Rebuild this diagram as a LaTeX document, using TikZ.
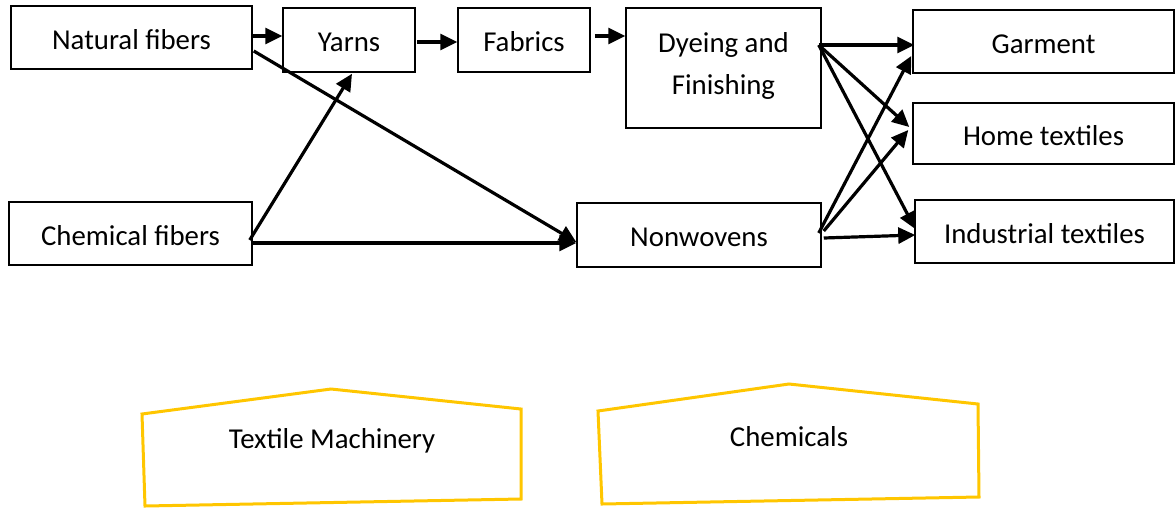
\documentclass[tikz,border=0pt]{standalone}
\usepackage{fontspec}
\setmainfont{Carlito}
\usetikzlibrary{arrows.meta,calc}
\definecolor{shedgold}{RGB}{255,198,0}
\begin{document}
\begin{tikzpicture}[x=1pt,y=-1pt,
  txt/.style={font=\fontsize{28.8}{42}\selectfont},
  box/.style={txt, draw=black, line width=1.5pt, inner sep=0pt, align=center,
    text height=23.5pt, text depth=0pt},
  flow/.style={line width=3.2pt, -{Triangle[length=17pt,width=16pt]}},
  shed/.style={draw=shedgold, line width=3pt, line join=miter}]
\useasboundingbox (0,0) rectangle (1175,507);

% process chain boxes
\node[box, minimum width=241, minimum height=63] (nat)  at (131.5,37.5) {Natural fibers};
\node[box, minimum width=132, minimum height=64] (yarn) at (349,40)     {Yarns};
\node[box, minimum width=132, minimum height=64] (fab)  at (524,40)     {Fabrics};
\node[box, minimum width=195, minimum height=120, text height=52.6pt, text depth=0pt]
  (dye) at (723.5,68) {Dyeing and\\Finishing};
\node[box, minimum width=243, minimum height=63] (chem) at (130.5,233.5) {Chemical fibers};
\node[box, minimum width=244, minimum height=64] (non)  at (699,235)    {Nonwovens};

% end uses
\node[box, minimum width=261, minimum height=63] (gar)  at (1043.5,41.5)  {Garment};
\node[box, minimum width=261, minimum height=61] (home) at (1043.5,133.5) {Home textiles};
\node[box, minimum width=259, minimum height=63] (ind)  at (1044.5,231.5) {Industrial textiles};

% flows
\draw[flow] ($(nat.east)+(0,-1.5)$)  -- ($(yarn.west)+(0,-4)$);
\draw[flow] ($(yarn.east)+(1,2)$)    -- ($(fab.west)+(0,2)$);
\draw[flow] ($(fab.east)+(4,-4)$)    -- ($(dye.west)+(0,-32)$);
\draw[flow] ($(nat.east)+(1,13.5)$)  -- ($(non.west)+(0,7)$);
\draw[flow] ($(chem.east)+(-3,6.5)$) -- ($(yarn.south)+(3,1)$);
\draw[flow] ($(chem.east)+(-2,9.5)$) -- ($(non.west)+(0,8)$);

\draw[flow] ($(dye.east)+(-3,-23)$) -- ($(gar.west)+(2,3.5)$);
\draw[flow] ($(dye.east)+(-3,-23)$) -- ($(home.west)+(-3,-6.5)$);
\draw[flow] ($(dye.east)+(-3,-23)$) -- ($(ind.west)+(1,-2.5)$);
\draw[flow] ($(non.east)+(-3,-2)$)  -- ($(gar.west)+(-1,14.5)$);
\draw[flow] ($(non.east)+(2,-4)$)   -- ($(home.west)+(-4,-3.5)$);
\draw[flow] ($(non.east)+(2,3)$)    -- ($(ind.west)+(1,3.5)$);

% supporting industries
\draw[shed] (142,414) -- (331,389) -- (521,409) -- (521,499) -- (145,506) -- cycle;
\node[txt] (mach) at (332,441) {Textile Machinery};
\draw[shed] (598,411) -- (789,384) -- (978,404) -- (979,497) -- (602,504) -- cycle;
\node[txt] (chm) at (789,437) {Chemicals};
\end{tikzpicture}
\end{document}
